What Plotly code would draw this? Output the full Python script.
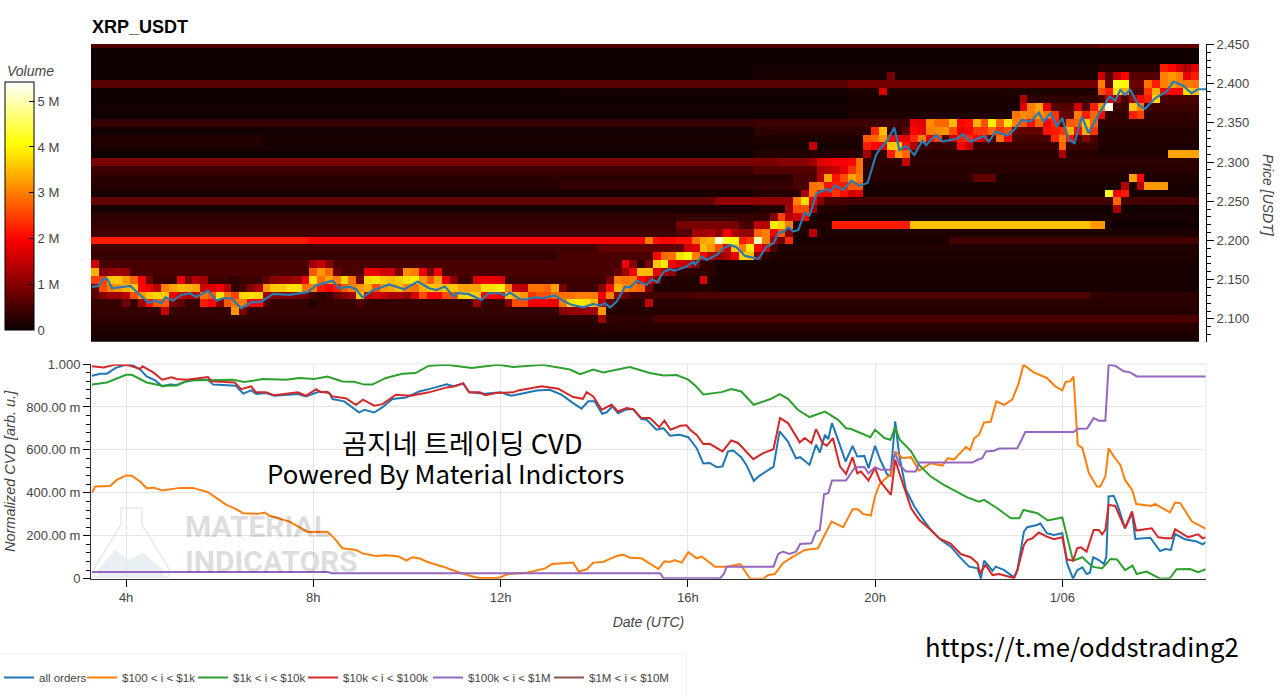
import plotly.graph_objects as go

# heatmap grid: 10 minute columns, 1 cent price rows
first_hour = 3.25
n_cols = 142
col_hours = [first_hour + (c + 0.5) / 6 for c in range(n_cols)]
row_cents = list(range(207, 246))

# background volume per price row, in millions
vol_245 = [0.55]*129 + [0.7]*13
vol_244 = [0.06]*142
vol_243 = [0.05]*142
vol_242 = [0.05]*85 + [0.08]*44 + [0.25]*13
vol_241 = [0.06]*85 + [0.1]*44 + [0.6]*13
vol_240 = [0.62]*97 + [0.85]*32 + [0.8]*13
vol_239 = [0.05]*60 + [0.08]*37 + [0.15]*32 + [0.6]*13
vol_238 = [0.06]*97 + [0.12]*22 + [0.3]*10 + [0.5]*13
vol_237 = [0.08]*97 + [0.12]*22 + [0.6]*10 + [0.4]*13
vol_236 = [0.06]*97 + [0.15]*21 + [0.7]*11 + [0.3]*13
vol_235 = [0.38]*85 + [0.42]*20 + [0.7]*24 + [0.3]*13
vol_234 = [0.08]*85 + [0.3]*19 + [0.7]*25 + [0.2]*13
vol_233 = [0.2]*22 + [0.1]*63 + [0.15]*14 + [0.5]*30 + [0.2]*13
vol_232 = [0.15]*22 + [0.1]*77 + [0.4]*30 + [0.15]*13
vol_231 = [0.05]*85 + [0.2]*12 + [0.25]*32 + [0.15]*13
vol_230 = [0.9]*88 + [1.0]*9 + [0.28]*45
vol_229 = [0.4]*85 + [0.6]*12 + [0.25]*45
vol_228 = [0.28]*90 + [0.5]*7 + [0.25]*16 + [0.7]*3 + [0.15]*26
vol_227 = [0.22]*60 + [0.35]*30 + [0.5]*7 + [0.12]*45
vol_226 = [0.12]*85 + [0.25]*12 + [0.12]*45
vol_225 = [0.7]*80 + [1.1]*10 + [0.5]*7 + [0.45]*45
vol_224 = [0.12]*85 + [0.2]*12 + [0.06]*45
vol_223 = [0.3]*75 + [0.35]*13 + [0.12]*54
vol_222 = [0.35]*75 + [0.9]*5 + [0.5]*7 + [0.2]*8 + [2.2]*10 + [3.55]*23 + [3.2]*2 + [0.06]*12
vol_221 = [0.42]*75 + [0.6]*12 + [0.15]*55
vol_220 = [2.2]*28 + [2.0]*43 + [0.7]*18 + [0.12]*21 + [0.45]*32
vol_219 = [0.45]*65 + [0.7]*20 + [0.18]*57
vol_218 = [0.35]*60 + [0.5]*12 + [0.3]*15 + [0.15]*55
vol_217 = [0.5]*70 + [0.3]*10 + [0.12]*62
vol_216 = [0.5]*70 + [0.3]*10 + [0.12]*62
vol_215 = [0.4]*72 + [0.2]*8 + [0.12]*62
vol_214 = [0.4]*66 + [0.2]*14 + [0.12]*62
vol_213 = [0.6]*65 + [0.45]*12 + [0.55]*51 + [0.3]*14
vol_212 = [0.35]*65 + [0.25]*77
vol_211 = [0.35]*65 + [0.22]*77
vol_210 = [0.3]*72 + [0.5]*70
vol_209 = [0.2]*65 + [0.25]*77
vol_208 = [0.15]*142
vol_207 = [0.1]*142

# cells near the traded price: column -> {price row: volume in millions}
hot_cells = {
    0: {217: 1.6, 216: 3.4, 215: 2.5, 214: 0.7},
    1: {216: 1.0, 215: 2.5, 214: 2.6, 213: 1.0},
    2: {216: 1.1, 215: 3.6, 214: 3.0, 213: 1.2},
    3: {216: 1.2, 215: 3.6, 214: 3.2, 213: 1.2},
    4: {216: 1.1, 215: 3.2, 214: 3.4, 213: 1.4, 212: 0.8},
    5: {215: 2.8, 214: 3.6, 213: 2.6},
    6: {215: 1.9, 214: 2.0, 213: 3.2, 212: 1.2},
    7: {215: 0.8, 214: 1.8, 213: 3.6, 212: 2.1},
    8: {214: 1.4, 213: 3.7, 212: 2.7},
    9: {214: 3.0, 213: 3.6, 212: 2.7, 211: 1.5},
    10: {214: 3.3, 213: 1.8, 212: 0.9},
    11: {215: 1.8, 214: 3.5, 213: 1.5, 212: 0.7},
    12: {215: 0.9, 214: 3.4, 213: 1.4},
    13: {215: 1.4, 214: 3.3, 213: 1.4},
    14: {215: 1.2, 214: 1.6, 213: 2.9, 212: 2.2},
    15: {214: 1.7, 213: 2.7, 212: 2.0},
    16: {214: 1.9, 213: 3.8, 212: 1.0},
    17: {214: 1.4, 213: 2.9, 212: 2.7},
    18: {215: 0.3, 214: 0.3, 213: 2.5, 212: 2.9, 211: 3.2},
    19: {214: 0.5, 213: 3.7, 212: 3.0, 211: 0.9},
    20: {214: 1.0, 213: 3.8, 212: 2.0},
    21: {214: 1.3, 213: 3.7, 212: 2.0},
    22: {215: 0.7, 214: 3.2, 213: 1.2, 212: 0.6},
    23: {215: 1.0, 214: 3.6, 213: 1.1},
    24: {215: 1.1, 214: 3.6, 213: 1.0},
    25: {215: 1.1, 214: 3.8, 213: 1.0},
    26: {215: 1.2, 214: 3.8, 213: 0.9},
    27: {215: 1.9, 214: 2.9, 213: 0.8},
    28: {217: 1.2, 216: 2.7, 215: 3.8, 214: 3.0, 213: 0.5, 212: 0.2},
    29: {217: 1.5, 216: 3.2, 215: 2.9, 214: 2.2, 213: 0.3},
    30: {217: 1.0, 216: 2.8, 215: 3.3, 214: 2.0, 213: 0.4},
    31: {216: 0.8, 215: 3.0, 214: 2.2, 213: 0.8},
    32: {215: 3.7, 214: 2.7, 213: 1.0},
    33: {215: 2.9, 214: 3.0, 213: 1.2},
    34: {215: 0.9, 214: 3.2, 213: 3.6, 212: 0.6},
    35: {216: 1.8, 215: 3.7, 214: 3.4, 213: 1.5},
    36: {216: 1.8, 215: 3.8, 214: 2.6, 213: 1.6},
    37: {216: 1.6, 215: 3.6, 214: 3.2, 213: 1.5},
    38: {216: 1.6, 215: 3.5, 214: 3.3, 213: 1.3},
    39: {216: 0.9, 215: 3.6, 214: 3.5, 213: 1.3},
    40: {216: 3.1, 215: 3.8, 214: 3.0, 213: 1.1},
    41: {216: 3.0, 215: 3.9, 214: 2.9, 213: 1.6},
    42: {216: 1.8, 215: 3.2, 214: 3.4, 213: 2.6},
    43: {216: 0.9, 215: 2.7, 214: 3.6, 213: 2.0},
    44: {216: 1.9, 215: 3.3, 214: 3.5, 213: 2.0},
    45: {215: 1.8, 214: 3.6, 213: 2.6},
    46: {215: 1.0, 214: 3.6, 213: 2.6},
    47: {214: 3.3, 213: 3.7},
    48: {214: 3.3, 213: 3.7},
    49: {215: 1.7, 214: 3.3, 213: 3.6, 212: 1.2},
    50: {215: 1.8, 214: 3.8, 213: 2.0},
    51: {215: 1.8, 214: 3.8, 213: 2.0},
    52: {215: 1.7, 214: 3.9, 213: 1.8},
    53: {214: 3.0, 213: 3.6, 212: 1.0},
    54: {214: 1.5, 213: 3.4, 212: 2.6},
    55: {214: 1.4, 213: 3.2, 212: 2.6},
    56: {214: 2.9, 213: 2.4, 212: 1.9},
    57: {214: 2.9, 213: 2.6, 212: 1.9},
    58: {214: 2.8, 213: 2.6, 212: 1.9},
    59: {214: 3.3, 213: 2.9, 212: 1.8},
    60: {214: 0.9, 213: 2.9, 212: 3.0, 211: 1.0},
    61: {213: 2.9, 212: 3.8, 211: 1.1},
    62: {213: 3.0, 212: 3.9, 211: 1.1},
    63: {213: 3.0, 212: 3.8, 211: 1.2},
    64: {213: 3.0, 212: 3.5, 211: 1.2},
    65: {214: 1.0, 213: 1.9, 212: 1.4, 211: 3.2, 210: 1.2},
    66: {215: 0.9, 214: 2.1, 213: 3.0, 212: 0.7},
    67: {216: 0.7, 215: 3.0, 214: 3.4, 213: 1.0},
    68: {217: 1.9, 216: 1.2, 215: 2.9, 214: 3.1, 213: 0.8},
    69: {217: 1.0, 216: 1.9, 215: 3.0, 214: 2.9},
    70: {220: 2.0, 216: 3.5, 215: 2.0, 214: 2.8},
    71: {220: 3.0, 217: 0.9, 216: 3.5, 215: 1.6, 214: 0.9, 212: 1.5},
    72: {220: 2.1, 218: 2.0, 217: 3.6, 216: 1.8, 215: 1.0},
    73: {220: 2.0, 218: 2.8, 217: 3.9, 216: 1.3},
    74: {220: 2.0, 218: 2.9, 217: 1.9, 216: 1.1},
    75: {220: 2.1, 218: 3.8, 217: 1.6},
    76: {220: 2.1, 219: 1.6, 218: 4.0, 217: 1.5},
    77: {221: 1.2, 220: 2.9, 219: 1.7, 218: 3.0, 217: 1.0},
    78: {221: 1.2, 220: 3.3, 219: 3.5, 218: 1.9, 215: 1.7},
    79: {221: 1.3, 220: 3.4, 219: 3.2, 218: 1.4},
    80: {222: 0.9, 221: 1.1, 220: 5.2, 219: 2.6, 218: 1.1},
    81: {222: 0.9, 221: 1.9, 220: 4.2, 219: 1.6, 218: 1.3},
    82: {222: 0.9, 221: 1.3, 220: 4.0, 219: 3.6, 218: 1.8},
    83: {221: 1.1, 220: 2.2, 219: 3.0, 218: 3.7},
    84: {221: 1.1, 220: 2.4, 219: 3.9, 218: 3.6},
    85: {222: 1.4, 221: 2.8, 220: 5.0, 219: 2.0, 218: 1.0},
    86: {222: 1.4, 221: 3.0, 220: 3.0, 219: 1.6},
    87: {223: 1.0, 222: 3.9, 221: 1.9, 220: 1.2, 219: 0.5},
    88: {223: 2.5, 222: 3.7, 221: 2.7, 220: 0.8},
    89: {224: 1.2, 223: 1.4, 222: 3.0, 221: 1.0, 220: 2.3},
    90: {225: 3.0, 224: 2.6, 223: 1.6},
    91: {226: 1.3, 225: 3.8, 224: 2.6, 223: 2.0},
    92: {232: 1.5, 230: 1.2, 227: 2.9, 226: 2.9, 225: 1.8, 224: 1.2, 221: 1.4},
    93: {230: 1.7, 229: 1.3, 228: 1.4, 227: 3.0, 226: 2.0, 225: 1.0},
    94: {230: 1.8, 229: 1.4, 228: 3.3, 227: 2.1, 226: 2.0},
    95: {230: 1.9, 229: 1.5, 228: 2.1, 227: 2.2, 226: 2.4},
    96: {230: 1.9, 229: 1.8, 228: 2.6, 227: 2.2, 226: 2.1},
    97: {230: 2.0, 229: 2.4, 228: 3.3, 227: 2.7, 226: 1.6},
    98: {230: 2.9, 229: 2.9, 228: 3.0, 227: 2.7, 226: 1.7},
    99: {233: 2.7, 232: 2.2, 231: 1.2},
    100: {234: 2.3, 233: 2.8, 232: 2.0},
    101: {239: 1.7, 234: 3.5, 233: 3.2, 232: 1.8},
    102: {241: 0.9, 233: 2.0, 232: 3.6, 231: 2.2},
    103: {233: 1.8, 232: 3.6, 231: 3.2},
    104: {233: 1.8, 232: 2.1, 231: 2.8, 230: 1.5},
    105: {235: 1.8, 234: 2.0, 233: 2.3, 232: 1.3},
    106: {235: 1.7, 234: 1.8, 233: 3.0},
    107: {235: 3.1, 234: 3.0, 233: 1.8},
    108: {235: 2.8, 234: 3.1, 233: 2.5},
    109: {235: 2.8, 234: 3.2},
    110: {235: 3.5, 234: 2.6, 233: 1.6},
    111: {235: 2.0, 234: 1.8, 233: 2.2, 232: 2.0},
    112: {235: 2.1, 234: 2.0, 233: 2.3, 232: 1.5},
    113: {235: 3.4, 234: 2.4, 233: 2.0},
    114: {235: 2.6, 234: 2.4, 233: 1.6},
    115: {235: 3.9, 234: 2.8},
    116: {235: 2.8, 234: 2.4, 233: 2.9},
    117: {235: 3.8, 234: 2.6, 233: 2.0},
    118: {236: 2.9, 235: 3.0},
    119: {238: 1.3, 237: 1.7, 236: 3.1, 235: 2.7},
    120: {237: 3.0, 236: 3.0, 235: 2.1},
    121: {237: 3.3, 236: 3.2, 235: 2.8},
    122: {237: 1.8, 236: 3.0, 235: 2.0, 234: 2.1},
    123: {236: 2.4, 235: 2.3, 234: 2.2, 233: 2.3},
    124: {234: 2.4, 233: 3.0, 232: 2.8, 231: 1.3},
    125: {235: 2.7, 234: 3.4, 233: 2.1},
    126: {237: 1.6, 236: 3.0, 235: 2.8, 234: 2.0},
    127: {236: 2.2, 235: 3.6, 234: 3.4, 233: 1.0},
    128: {237: 2.2, 236: 2.8, 235: 2.8, 234: 2.4},
    129: {241: 1.6, 240: 3.0, 239: 2.6, 237: 3.2, 236: 2.0},
    130: {239: 2.2, 238: 1.5, 237: 5.3, 226: 4.2},
    131: {241: 1.5, 240: 4.2, 239: 3.8, 238: 1.2, 226: 1.9, 225: 2.8, 224: 1.3},
    132: {241: 2.0, 240: 4.0, 239: 3.4, 227: 1.4, 226: 2.2},
    133: {238: 1.2, 237: 3.6, 236: 2.2, 228: 3.3},
    134: {238: 2.0, 237: 3.0, 236: 2.5, 228: 2.0, 227: 1.4},
    135: {240: 2.9, 239: 2.4, 238: 2.2, 227: 3.2},
    136: {240: 2.2, 239: 3.4, 238: 3.7, 227: 3.2},
    137: {242: 2.2, 241: 3.0, 240: 3.0, 239: 1.9, 227: 3.2},
    138: {242: 2.0, 241: 3.2, 240: 3.2, 239: 2.0, 231: 3.3},
    139: {242: 1.6, 241: 3.0, 240: 3.0, 239: 2.0, 231: 3.3},
    140: {242: 1.3, 241: 1.8, 240: 3.0, 239: 3.8, 231: 3.3},
    141: {242: 1.7, 241: 2.2, 240: 2.9, 239: 3.5, 231: 3.3},
}

# last traded price, hours since 00:00 UTC of the first day
price_hours = [3.27, 3.41, 3.52, 3.6, 3.7, 4.09, 4.26, 4.48, 4.62, 4.76, 4.84, 5.0, 5.18, 5.36, 5.5, 5.75, 5.93, 6.07,
               6.25, 6.46, 6.67, 6.89, 7.14, 7.49, 7.88, 8.06, 8.41, 8.55, 8.77, 8.91, 9.05, 9.26, 9.62, 9.94, 10.23,
               10.47, 10.63, 10.81, 11.0, 11.07, 11.31, 11.59, 11.74, 12.02, 12.09, 12.2, 12.41, 12.59, 12.73, 12.88,
               13.16, 13.3, 13.51, 13.77, 13.98, 14.12, 14.23, 14.34, 14.48, 14.66, 14.76, 14.91, 15.12, 15.23, 15.35,
               15.48, 15.62, 15.73, 15.97, 16.12, 16.15, 16.3, 16.4, 16.62, 16.76, 16.9, 17.04, 17.22, 17.51, 17.68,
               17.83, 17.94, 18.06, 18.15, 18.25, 18.36, 18.5, 18.6, 18.75, 18.97, 19.04, 19.14, 19.32, 19.49, 19.67,
               19.84, 19.91, 20.02, 20.09, 20.27, 20.41, 20.52, 20.66, 20.84, 21.01, 21.09, 21.3, 21.44, 21.76, 21.88,
               22.04, 22.33, 22.43, 22.58, 22.82, 22.97, 23.14, 23.32, 23.5, 23.6, 23.75, 23.89, 24.0, 24.14, 24.26,
               24.42, 24.56, 24.77, 25.01, 25.13, 25.24, 25.34, 25.45, 25.63, 25.77, 25.98, 26.23, 26.37, 26.58,
               26.76, 26.9, 27.07]
price_vals = [2.1407, 2.142, 2.1513, 2.1505, 2.139, 2.142, 2.1327, 2.1207, 2.1233, 2.12, 2.1275, 2.1233, 2.1305,
              2.1327, 2.128, 2.136, 2.1233, 2.1263, 2.1263, 2.1135, 2.121, 2.122, 2.132, 2.1305, 2.134, 2.143, 2.1485,
              2.139, 2.141, 2.1378, 2.1275, 2.136, 2.144, 2.1378, 2.1475, 2.139, 2.1368, 2.1412, 2.1284, 2.1327,
              2.1318, 2.1242, 2.1327, 2.1327, 2.1293, 2.1335, 2.125, 2.125, 2.1276, 2.1263, 2.13, 2.1242, 2.118,
              2.1147, 2.119, 2.1168, 2.1198, 2.1143, 2.122, 2.141, 2.1402, 2.1487, 2.1433, 2.1505, 2.1467, 2.16,
              2.1633, 2.1616, 2.1667, 2.173, 2.1688, 2.1795, 2.1752, 2.1816, 2.19, 2.1943, 2.1913, 2.1803, 2.1765,
              2.192, 2.1965, 2.21, 2.2113, 2.2168, 2.2113, 2.2134, 2.2355, 2.2317, 2.26, 2.2657, 2.2623, 2.27, 2.2645,
              2.2763, 2.2699, 2.2733, 2.2869, 2.309, 2.3154, 2.328, 2.344, 2.3154, 2.3205, 2.309, 2.3272, 2.3217,
              2.3346, 2.326, 2.33, 2.3354, 2.326, 2.3333, 2.326, 2.339, 2.3339, 2.341, 2.3537, 2.3516, 2.363, 2.3516,
              2.3622, 2.346, 2.356, 2.328, 2.324, 2.358, 2.3367, 2.36, 2.3835, 2.3784, 2.392, 2.3856, 2.392, 2.3728,
              2.3678, 2.3813, 2.39, 2.4026, 2.3975, 2.3877, 2.3928, 2.3928]

# normalized CVD per order size bucket
all_hours = [3.27, 3.45, 3.59, 3.77, 4.0, 4.12, 4.3, 4.44, 4.62, 4.77, 4.94, 5.08, 5.29, 5.5, 5.75, 5.86, 6.07, 6.21,
             6.34, 6.5, 6.67, 6.78, 6.99, 7.17, 7.49, 7.67, 7.84, 8.02, 8.13, 8.34, 8.41, 8.66, 8.84, 8.98, 9.09, 9.3,
             9.48, 9.69, 9.98, 10.26, 10.47, 10.85, 10.99, 11.2, 11.33, 11.56, 11.67, 12.0, 12.23, 12.52, 12.77, 13.05,
             13.3, 13.55, 13.73, 13.87, 14.01, 14.17, 14.26, 14.39, 14.51, 14.66, 14.83, 15.01, 15.12, 15.33, 15.48,
             15.62, 15.83, 16.01, 16.19, 16.33, 16.47, 16.62, 16.74, 16.86, 16.97, 17.14, 17.25, 17.41, 17.53, 17.78,
             17.83, 17.96, 18.14, 18.31, 18.4, 18.6, 18.74, 18.82, 18.93, 19.0, 19.08, 19.21, 19.37, 19.52, 19.62,
             19.77, 19.86, 20.0, 20.11, 20.26, 20.33, 20.43, 20.52, 20.66, 20.84, 21.01, 21.19, 21.41, 21.62, 21.8,
             22.01, 22.19, 22.26, 22.33, 22.51, 22.58, 22.76, 22.97, 23.04, 23.18, 23.25, 23.46, 23.53, 23.67, 23.82,
             24.0, 24.1, 24.23, 24.32, 24.43, 24.52, 24.59, 24.66, 24.78, 24.89, 24.94, 24.99, 25.1, 25.18, 25.34,
             25.49, 25.56, 25.88, 26.09, 26.2, 26.32, 26.41, 26.62, 26.87, 27.0, 27.07]
all_vals = [0.945, 0.955, 0.955, 0.981, 0.997, 0.997, 0.974, 0.942, 0.924, 0.896, 0.905, 0.902, 0.919, 0.927, 0.927,
            0.904, 0.902, 0.899, 0.899, 0.862, 0.877, 0.86, 0.865, 0.852, 0.855, 0.86, 0.849, 0.865, 0.872, 0.865,
            0.837, 0.826, 0.799, 0.774, 0.787, 0.774, 0.799, 0.837, 0.844, 0.872, 0.883, 0.905, 0.896, 0.908, 0.868,
            0.865, 0.862, 0.868, 0.852, 0.865, 0.877, 0.88, 0.857, 0.818, 0.792, 0.826, 0.826, 0.768, 0.774, 0.802,
            0.771, 0.787, 0.79, 0.743, 0.74, 0.694, 0.701, 0.666, 0.67, 0.659, 0.608, 0.537, 0.539, 0.519, 0.523, 0.593,
            0.597, 0.566, 0.53, 0.456, 0.479, 0.515, 0.52, 0.686, 0.639, 0.561, 0.566, 0.53, 0.624, 0.588, 0.67, 0.65,
            0.725, 0.647, 0.546, 0.619, 0.569, 0.572, 0.515, 0.619, 0.554, 0.484, 0.479, 0.733, 0.569, 0.414, 0.336,
            0.281, 0.227, 0.18, 0.149, 0.103, 0.056, 0.048, 0.0, 0.084, 0.037, 0.056, 0.04, 0.006, 0.04, 0.219, 0.24,
            0.25, 0.258, 0.212, 0.204, 0.212, 0.072, 0.0, 0.04, 0.053, 0.022, 0.028, 0.1, 0.087, 0.068, 0.103, 0.383,
            0.386, 0.344, 0.235, 0.305, 0.185, 0.191, 0.129, 0.138, 0.134, 0.208, 0.184, 0.173, 0.16, 0.171]

small_hours = [3.27, 3.34, 3.66, 3.8, 4.0, 4.12, 4.3, 4.44, 4.6, 4.77, 5.15, 5.43, 5.75, 6.14, 6.32, 6.5, 6.82, 6.96,
               7.06, 7.49, 7.88, 8.3, 8.45, 8.62, 8.91, 9.05, 9.33, 9.58, 9.83, 9.99, 10.11, 10.26, 10.44, 10.77, 11.13,
               11.52, 11.95, 12.16, 12.56, 12.95, 13.1, 13.55, 13.67, 13.84, 13.98, 14.19, 14.48, 14.62, 14.76, 15.01,
               15.37, 15.5, 15.62, 15.72, 15.87, 16.01, 16.19, 16.3, 16.58, 16.83, 17.12, 17.22, 17.33, 17.61, 17.72,
               17.86, 18.03, 18.25, 18.5, 18.78, 19.07, 19.32, 19.52, 19.63, 19.74, 19.91, 20.0, 20.09, 20.23, 20.34,
               20.43, 20.59, 20.77, 20.94, 21.19, 21.44, 21.55, 21.69, 21.94, 22.03, 22.12, 22.22, 22.33, 22.47, 22.59,
               22.76, 22.93, 23.07, 23.17, 23.39, 23.67, 23.85, 24.0, 24.07, 24.17, 24.24, 24.33, 24.43, 24.57, 24.74,
               24.81, 24.92, 24.99, 25.1, 25.24, 25.34, 25.49, 25.58, 25.91, 25.98, 26.3, 26.41, 26.52, 26.77, 27.07]
small_vals = [0.401, 0.429, 0.432, 0.46, 0.481, 0.48, 0.453, 0.421, 0.424, 0.411, 0.423, 0.423, 0.403, 0.344, 0.328,
              0.305, 0.302, 0.308, 0.294, 0.266, 0.218, 0.219, 0.188, 0.142, 0.134, 0.118, 0.106, 0.109, 0.103, 0.084,
              0.1, 0.095, 0.078, 0.056, 0.028, 0.003, 0.003, 0.022, 0.028, 0.048, 0.068, 0.075, 0.033, 0.044, 0.075,
              0.078, 0.106, 0.112, 0.098, 0.095, 0.045, 0.081, 0.078, 0.087, 0.075, 0.124, 0.095, 0.103, 0.056, 0.056,
              0.068, 0.033, 0.0, 0.0, 0.017, 0.022, 0.072, 0.103, 0.134, 0.142, 0.266, 0.24, 0.323, 0.323, 0.302, 0.294,
              0.383, 0.437, 0.468, 0.484, 0.593, 0.561, 0.566, 0.504, 0.538, 0.527, 0.561, 0.556, 0.613, 0.6, 0.655,
              0.67, 0.728, 0.731, 0.826, 0.81, 0.834, 0.911, 0.997, 0.961, 0.935, 0.896, 0.877, 0.916, 0.919, 0.942,
              0.624, 0.608, 0.491, 0.429, 0.429, 0.476, 0.608, 0.569, 0.53, 0.46, 0.414, 0.348, 0.339, 0.348, 0.309,
              0.355, 0.352, 0.266, 0.232]

mid_hours = [3.27, 3.59, 4.0, 4.12, 4.44, 4.77, 5.08, 5.33, 5.75, 5.86, 6.28, 6.53, 6.92, 7.42, 7.7, 8.02, 8.3, 8.62,
             8.87, 9.09, 9.26, 9.55, 9.9, 10.18, 10.47, 10.85, 11.38, 11.95, 12.27, 12.9, 13.48, 13.7, 13.98, 14.19,
             14.76, 15.19, 15.48, 15.76, 16.01, 16.19, 16.33, 16.72, 16.93, 17.14, 17.41, 17.78, 17.96, 18.14, 18.35,
             18.6, 18.93, 19.21, 19.38, 19.49, 19.7, 19.9, 20.0, 20.2, 20.33, 20.43, 20.52, 20.77, 20.94, 21.19, 21.47,
             21.97, 22.22, 22.33, 22.61, 22.9, 23.08, 23.17, 23.47, 23.69, 24.0, 24.23, 24.43, 24.64, 24.85, 25.03,
             25.17, 25.34, 25.5, 25.59, 25.8, 26.09, 26.3, 26.44, 26.73, 26.9, 27.07]
mid_vals = [0.904, 0.914, 0.95, 0.95, 0.914, 0.899, 0.9, 0.924, 0.924, 0.924, 0.927, 0.916, 0.93, 0.927, 0.935, 0.93,
            0.942, 0.919, 0.917, 0.904, 0.904, 0.935, 0.955, 0.958, 0.992, 0.997, 0.981, 0.997, 0.986, 0.996, 0.974,
            0.953, 0.974, 0.961, 0.986, 0.958, 0.947, 0.949, 0.927, 0.893, 0.858, 0.869, 0.883, 0.872, 0.81, 0.838,
            0.86, 0.838, 0.787, 0.753, 0.778, 0.74, 0.701, 0.697, 0.678, 0.659, 0.694, 0.655, 0.647, 0.706, 0.65, 0.593,
            0.53, 0.476, 0.437, 0.379, 0.359, 0.367, 0.328, 0.281, 0.281, 0.32, 0.305, 0.271, 0.285, 0.084, 0.1, 0.056,
            0.048, 0.092, 0.09, 0.04, 0.061, 0.022, 0.033, 0.0, 0.002, 0.044, 0.045, 0.03, 0.044]

large_hours = [3.27, 3.52, 3.77, 4.05, 4.3, 4.35, 4.58, 4.77, 4.97, 5.08, 5.29, 5.75, 5.82, 6.14, 6.32, 6.46, 6.67, 6.77,
               6.99, 7.17, 7.49, 7.67, 7.84, 7.95, 8.06, 8.16, 8.3, 8.41, 8.69, 8.91, 9.06, 9.3, 9.48, 9.76, 10.08, 10.47,
               10.85, 11.02, 11.2, 11.33, 11.56, 11.67, 11.91, 12.27, 12.38, 12.88, 13.23, 13.55, 13.76, 13.84, 13.98,
               14.16, 14.37, 14.51, 14.69, 14.83, 15.01, 15.19, 15.39, 15.5, 15.63, 15.84, 15.97, 16.05, 16.19, 16.33,
               16.47, 16.74, 16.93, 17.08, 17.4, 17.61, 17.83, 17.97, 18.14, 18.39, 18.5, 18.64, 18.74, 18.88, 18.97,
               19.1, 19.25, 19.38, 19.52, 19.62, 19.7, 19.86, 20.0, 20.11, 20.34, 20.43, 20.52, 20.77, 20.94, 21.19,
               21.37, 21.62, 21.83, 22.04, 22.19, 22.24, 22.36, 22.51, 22.65, 22.97, 23.04, 23.18, 23.25, 23.36, 23.5,
               23.67, 23.82, 24.0, 24.1, 24.23, 24.32, 24.4, 24.52, 24.67, 24.78, 24.85, 24.92, 24.99, 25.13, 25.34,
               25.49, 25.58, 25.91, 26.05, 26.2, 26.34, 26.41, 26.69, 26.9, 27.0, 27.07]
large_vals = [0.989, 0.984, 0.997, 0.994, 0.977, 0.989, 0.961, 0.927, 0.938, 0.93, 0.927, 0.939, 0.919, 0.914, 0.914,
              0.883, 0.896, 0.869, 0.869, 0.854, 0.862, 0.868, 0.852, 0.869, 0.883, 0.868, 0.871, 0.849, 0.841, 0.81,
              0.834, 0.806, 0.813, 0.857, 0.852, 0.868, 0.891, 0.896, 0.911, 0.868, 0.868, 0.855, 0.865, 0.868, 0.877,
              0.896, 0.885, 0.846, 0.838, 0.869, 0.849, 0.787, 0.81, 0.779, 0.795, 0.79, 0.748, 0.748, 0.706, 0.736,
              0.694, 0.712, 0.715, 0.694, 0.67, 0.627, 0.628, 0.593, 0.644, 0.631, 0.557, 0.585, 0.603, 0.748, 0.725,
              0.635, 0.655, 0.631, 0.697, 0.631, 0.619, 0.655, 0.523, 0.488, 0.566, 0.491, 0.499, 0.457, 0.515, 0.453,
              0.39, 0.554, 0.491, 0.328, 0.274, 0.227, 0.188, 0.162, 0.115, 0.1, 0.072, 0.025, 0.064, 0.017, 0.022,
              0.003, 0.04, 0.157, 0.18, 0.188, 0.215, 0.196, 0.184, 0.193, 0.09, 0.084, 0.142, 0.146, 0.126, 0.227,
              0.227, 0.207, 0.227, 0.344, 0.339, 0.235, 0.313, 0.224, 0.235, 0.193, 0.188, 0.188, 0.23, 0.193, 0.207,
              0.188, 0.193]

big_hours = [3.27, 8.3, 8.41, 10.47, 15.41, 15.48, 16.69, 16.77, 16.83, 17.83, 17.93, 18.03, 18.17, 18.31, 18.4, 18.64,
             18.74, 18.82, 18.91, 19.0, 19.08, 19.38, 19.57, 19.77, 19.86, 20.0, 20.13, 20.33, 20.43, 20.52, 20.66,
             20.87, 20.94, 22.08, 22.19, 22.29, 22.37, 22.54, 22.65, 23.04, 23.21, 24.24, 24.33, 24.53, 24.67, 24.78,
             24.92, 24.99, 25.13, 25.31, 25.45, 25.59, 27.07]
big_vals = [0.031, 0.031, 0.025, 0.025, 0.025, 0.002, 0.002, 0.022, 0.056, 0.056, 0.115, 0.126, 0.115, 0.126, 0.162,
            0.165, 0.219, 0.227, 0.393, 0.398, 0.457, 0.457, 0.519, 0.52, 0.491, 0.519, 0.507, 0.507, 0.585, 0.53,
            0.499, 0.499, 0.541, 0.541, 0.554, 0.561, 0.593, 0.596, 0.606, 0.608, 0.683, 0.683, 0.698, 0.7, 0.748,
            0.736, 0.736, 0.997, 0.992, 0.966, 0.961, 0.942, 0.942]

series_names = ['all orders', '$100 < i < $1k', '$1k < i < $10k', '$10k < i < $100k', '$100k < i < $1M', '$1M < i < $10M']
series_colors = ['#1f77b4', '#ff7f0e', '#2ca02c', '#d62728', '#9467bd', '#8c564b']
series_hours = [all_hours, small_hours, mid_hours, large_hours, big_hours, []]
series_vals = [all_vals, small_vals, mid_vals, large_vals, big_vals, []]

x_tick_vals = [4, 8, 12, 16, 20, 24]
x_tick_text = ['4h', '8h', '12h', '16h', '20h', '1/06']
price_ticks = [2.1, 2.15, 2.2, 2.25, 2.3, 2.35, 2.4, 2.45]
cvd_ticks = [0, 0.2, 0.4, 0.6, 0.8, 1.0]
cvd_tick_text = ['0', '200.00 m', '400.00 m', '600.00 m', '800.00 m', '1.000']
vol_ticks = [0, 1, 2, 3, 4, 5]
vol_tick_text = ['0', '1 M', '2 M', '3 M', '4 M', '5 M']

W, H = 1280, 697
SANS = 'Liberation Sans'
GREY = '#444444'

rows_by_cent = {
    207: vol_207, 208: vol_208, 209: vol_209, 210: vol_210, 211: vol_211, 212: vol_212, 213: vol_213,
    214: vol_214, 215: vol_215, 216: vol_216, 217: vol_217, 218: vol_218, 219: vol_219, 220: vol_220,
    221: vol_221, 222: vol_222, 223: vol_223, 224: vol_224, 225: vol_225, 226: vol_226, 227: vol_227,
    228: vol_228, 229: vol_229, 230: vol_230, 231: vol_231, 232: vol_232, 233: vol_233, 234: vol_234,
    235: vol_235, 236: vol_236, 237: vol_237, 238: vol_238, 239: vol_239, 240: vol_240, 241: vol_241,
    242: vol_242, 243: vol_243, 244: vol_244, 245: vol_245,
}
z = [list(rows_by_cent[cent]) for cent in row_cents]
for col, cells in hot_cells.items():
    for cent, vol in cells.items():
        z[row_cents.index(cent)][col] = vol

hot_scale = [[0, '#0a0000'], [0.365, '#ff0000'], [0.746, '#ffff00'], [1, '#ffffff']]


def fx(px):
    return px / W


def fy(px):
    return 1 - px / H


def paper_path(points):
    cmds = ['M' if i == 0 else 'L' for i in range(len(points))]
    return ' '.join(f'{c} {fx(x):.5f} {fy(y):.5f}' for c, (x, y) in zip(cmds, points)) + ' Z'


fig = go.Figure()
fig.add_trace(go.Heatmap(
    x=col_hours, y=[c / 100 for c in row_cents], z=z, xaxis='x', yaxis='y',
    zmin=0, zmax=5.42, colorscale=hot_scale,
    colorbar=dict(
        x=fx(5), xanchor='left', y=fy(330), yanchor='bottom', lenmode='pixels', len=248,
        thickness=29, thicknessmode='pixels', outlinecolor='black', outlinewidth=1,
        tickvals=vol_ticks, ticktext=vol_tick_text, ticks='inside', ticklen=5, tickcolor='black',
        tickfont=dict(family=SANS, size=13, color=GREY), xpad=0, ypad=0,
    ),
))
fig.add_trace(go.Scatter(x=price_hours, y=price_vals, mode='lines', xaxis='x', yaxis='y', showlegend=False,
                         line=dict(color='#2b7bb0', width=2.2)))

# one legend per entry so each sits where the reference has it
legend_keys = ['legend', 'legend2', 'legend3', 'legend4', 'legend5', 'legend6']
legend_left = [-1, 82, 193, 303, 428, 549]
for name, color, hours, vals, key in zip(series_names, series_colors, series_hours, series_vals, legend_keys):
    fig.add_trace(go.Scatter(x=hours if hours else [None], y=vals if vals else [None], mode='lines',
                             xaxis='x2', yaxis='y2', name=name, legend=key, line=dict(color=color, width=2)))

x_range = [3.25, 27.07]
flask = paper_path([(121, 508), (142, 508), (142, 525), (170, 570), (168, 577), (95, 577), (93, 570), (121, 525)])
hills = paper_path([(96, 572), (115, 550), (128, 560), (143, 553), (166, 572), (163, 576), (98, 576)])

fig.update_layout(
    width=W, height=H, margin=dict(l=0, r=0, t=0, b=0, autoexpand=False), paper_bgcolor='white', plot_bgcolor='white',
    font=dict(family=SANS, size=13, color=GREY),
    xaxis=dict(domain=[fx(91), fx(1206)], range=x_range, anchor='y', showticklabels=False, ticks='',
               showgrid=False, zeroline=False, showline=False),
    yaxis=dict(domain=[fy(341.7), fy(44)], range=[2.0709, 2.4505], anchor='x', side='right', tickmode='array',
               tickvals=price_ticks, ticktext=[f'{t:.3f}' for t in price_ticks], ticks='outside', ticklen=7,
               tickcolor='black', showline=True, linecolor='black', showgrid=False, zeroline=False,
               minor=dict(dtick=0.01, tick0=2.0, ticks='outside', ticklen=4, tickcolor='black')),
    xaxis2=dict(domain=[fx(91), fx(1206)], range=x_range, anchor='y2', tickmode='array', tickvals=x_tick_vals,
                ticktext=x_tick_text, ticks='outside', ticklen=7, tickcolor='black', showline=True,
                linecolor='#333333', showgrid=True, gridcolor='#e5e5e5', zeroline=False,
                title=dict(text='<i>Date (UTC)</i>', font=dict(size=14, color=GREY), standoff=12)),
    yaxis2=dict(domain=[fy(578.7), fy(364)], range=[0, 1.0], anchor='x2', tickmode='array', tickvals=cvd_ticks,
                ticktext=cvd_tick_text, ticks='outside', ticklen=7, tickcolor='black', showline=True,
                linecolor='#333333', showgrid=True, gridcolor='#e5e5e5', zeroline=False,
                minor=dict(dtick=0.04, ticks='outside', ticklen=4, tickcolor='black')),
    shapes=[
        dict(type='path', path=hills, xref='paper', yref='paper', layer='below', fillcolor='#e8f0f3',
             line=dict(width=0)),
        dict(type='path', path=flask, xref='paper', yref='paper', layer='below', line=dict(color='#e8e8e8', width=1.5)),
        dict(type='line', xref='paper', yref='paper', x0=0, x1=fx(686), y0=fy(654), y1=fy(654),
             line=dict(color='#eeeeee', width=1)),
        dict(type='line', xref='paper', yref='paper', x0=fx(686), x1=fx(686), y0=fy(654), y1=0,
             line=dict(color='#eeeeee', width=1)),
        dict(type='line', xref='paper', yref='paper', x0=fx(91), x1=fx(1206), y0=fy(364), y1=fy(364),
             line=dict(color='#e5e5e5', width=1)),
        dict(type='line', xref='paper', yref='paper', x0=fx(1206), x1=fx(1206), y0=fy(364), y1=fy(578.7),
             line=dict(color='#e5e5e5', width=1)),
    ],
    annotations=[
        dict(text='<b>XRP_USDT</b>', xref='paper', yref='paper', x=fx(89.5), y=fy(27), xanchor='left', yanchor='middle',
             showarrow=False, font=dict(family=SANS, size=18, color='black')),
        dict(text='<i>Volume</i>', xref='paper', yref='paper', x=fx(5), y=fy(71), xanchor='left', yanchor='middle',
             showarrow=False, font=dict(family=SANS, size=14, color=GREY)),
        dict(text='<i>Price [USDT]</i>', xref='paper', yref='paper', x=fx(1268), y=fy(195), xanchor='center',
             yanchor='middle', textangle=90, showarrow=False, font=dict(family=SANS, size=14, color=GREY)),
        dict(text='<i>Normalized CVD [arb. u.]</i>', xref='paper', yref='paper', x=fx(10), y=fy(471), xanchor='center',
             yanchor='middle', textangle=-90, showarrow=False, font=dict(family=SANS, size=14.5, color=GREY)),
        dict(text='곰지네 트레이딩 CVD', xref='paper', yref='paper', x=fx(462.5), y=fy(442), xanchor='center', yanchor='middle',
             showarrow=False, font=dict(family='Noto Sans CJK KR', size=27.4, color='black')),
        dict(text='Powered By Material Indictors', xref='paper', yref='paper', x=fx(445), y=fy(472), xanchor='center',
             yanchor='middle', showarrow=False, font=dict(family='Noto Sans CJK KR', size=25.8, color='black')),
        dict(text='https://t.me/oddstrading2', xref='paper', yref='paper', x=fx(1081.5), y=fy(645), xanchor='center',
             yanchor='middle', showarrow=False, font=dict(family='Noto Sans CJK KR', size=25.7, color='black')),
        dict(text='<b>MATERIAL</b>', xref='paper', yref='paper', x=fx(183), y=fy(526), xanchor='left', yanchor='middle',
             showarrow=False, opacity=0.13, font=dict(family='Roboto', size=30, color='black')),
        dict(text='<b>INDICATORS</b>', xref='paper', yref='paper', x=fx(183), y=fy(561), xanchor='left', yanchor='middle',
             showarrow=False, opacity=0.13, font=dict(family='Roboto', size=30, color='black')),
    ],
)
for key, left in zip(legend_keys, legend_left):
    fig.update_layout({key: dict(orientation='h', x=left / W, xanchor='left', y=fy(663), yanchor='top',
                                 font=dict(family=SANS, size=11.5, color=GREY), itemwidth=30,
                                 bgcolor='rgba(0,0,0,0)')})

fig.write_html("out.html", post_script="document.body.style.margin='0';", config={'displayModeBar': False})
